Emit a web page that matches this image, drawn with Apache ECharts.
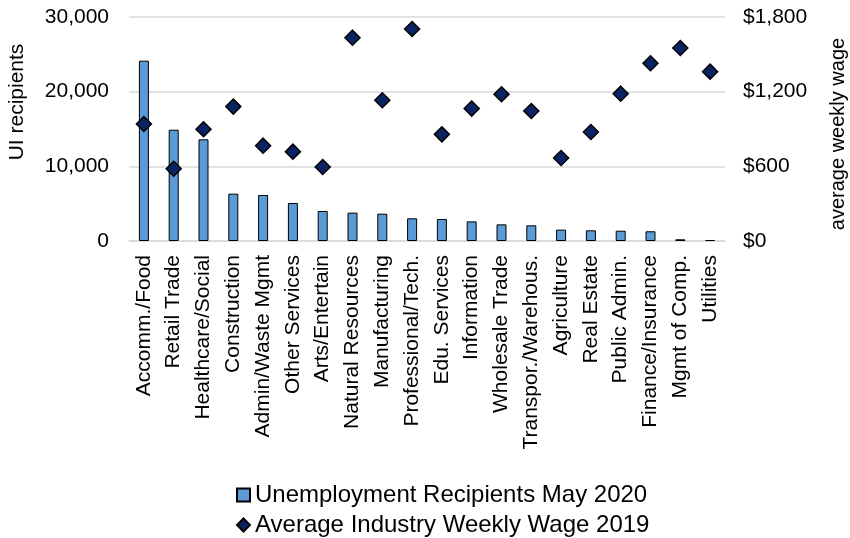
<!DOCTYPE html>
<html>
<head>
<meta charset="utf-8">
<script src="https://cdn.jsdelivr.net/npm/echarts@6/dist/echarts.min.js"></script>
<style>html,body{margin:0;padding:0;background:#fff}#c{width:850px;height:538px}</style>
</head>
<body>
<div id="c"></div>
<script>
const categories = ["Accomm./Food","Retail Trade","Healthcare/Social","Construction","Admin/Waste Mgmt","Other Services","Arts/Entertain","Natural Resources","Manufacturing","Professional/Tech.","Edu. Services","Information","Wholesale Trade","Transpor./Warehous.","Agriculture","Real Estate","Public Admin.","Finance/Insurance","Mgmt of Comp.","Utilities"];
const uiRecipients = [24150,14900,13620,6340,6160,5090,4020,3800,3660,3040,2950,2630,2230,2100,1520,1430,1380,1300,230,130];
const weeklyWage = [940,581,898,1080,766,718,595,1634,1131,1704,857,1064,1179,1045,667,876,1184,1428,1551,1361];
const leftTicks = {min:0,max:30000,interval:10000};
const rightTicks = {min:0,max:1800,interval:600};
const seriesNames = ["Unemployment Recipients May 2020","Average Industry Weekly Wage 2019"];

const font = "Liberation Sans, Arial, sans-serif";
const fmt = v => v.toLocaleString('en-US');
const chart = echarts.init(document.getElementById('c'));
const legendText = {fontFamily:font,fontSize:24,color:'#000'};
chart.setOption({
  animation:false,
  textStyle:{fontFamily:font},
  grid:{left:129,right:125,top:17,bottom:297,outerBoundsMode:'none',containLabel:false},
  legend:[{
    left:231, top:478, itemWidth:13, itemHeight:13, textStyle:legendText,
    data:[{name:seriesNames[0],icon:'rect'}]
  },{
    left:231, top:508, itemWidth:13, itemHeight:13, textStyle:legendText,
    data:[{name:seriesNames[1],icon:'diamond'}]
  }],
  xAxis:{
    type:'category', data:categories,
    axisTick:{show:false},
    axisLine:{lineStyle:{color:'#d9d9d9',width:1.5}},
    axisLabel:{rotate:90,interval:0,margin:14,fontSize:21,color:'#000',fontFamily:font}
  },
  yAxis:[{
    type:'value', min:leftTicks.min, max:leftTicks.max, interval:leftTicks.interval,
    name:'UI recipients', nameLocation:'middle', nameRotate:90, nameGap:101,
    nameTextStyle:{fontSize:21,color:'#000',fontFamily:font,padding:[0,0,0,54]},
    axisLabel:{fontSize:21,color:'#000',margin:20,formatter:v=>fmt(v),fontFamily:font},
    splitLine:{lineStyle:{color:'#d9d9d9',width:1.5}},
    axisLine:{show:false},axisTick:{show:false}
  },{
    type:'value', min:rightTicks.min, max:rightTicks.max, interval:rightTicks.interval,
    name:'average weekly wage', nameLocation:'middle', nameRotate:90, nameGap:103,
    nameTextStyle:{fontSize:20,color:'#000',fontFamily:font,padding:[0,10,0,0]},
    axisLabel:{fontSize:21,color:'#000',margin:18,formatter:v=>'$'+fmt(v),fontFamily:font},
    splitLine:{show:false},
    axisLine:{show:false},axisTick:{show:false}
  }],
  series:[{
    name:seriesNames[0], type:'bar', data:uiRecipients, barWidth:10,
    itemStyle:{color:'#5b9bd5',borderColor:'#000',borderWidth:1}
  },{
    name:seriesNames[1], type:'scatter', yAxisIndex:1, data:weeklyWage,
    symbol:'diamond', symbolSize:15,
    itemStyle:{color:'#0a2463',borderColor:'#000',borderWidth:1.5,opacity:1}
  }]
});
</script>
</body>
</html>
